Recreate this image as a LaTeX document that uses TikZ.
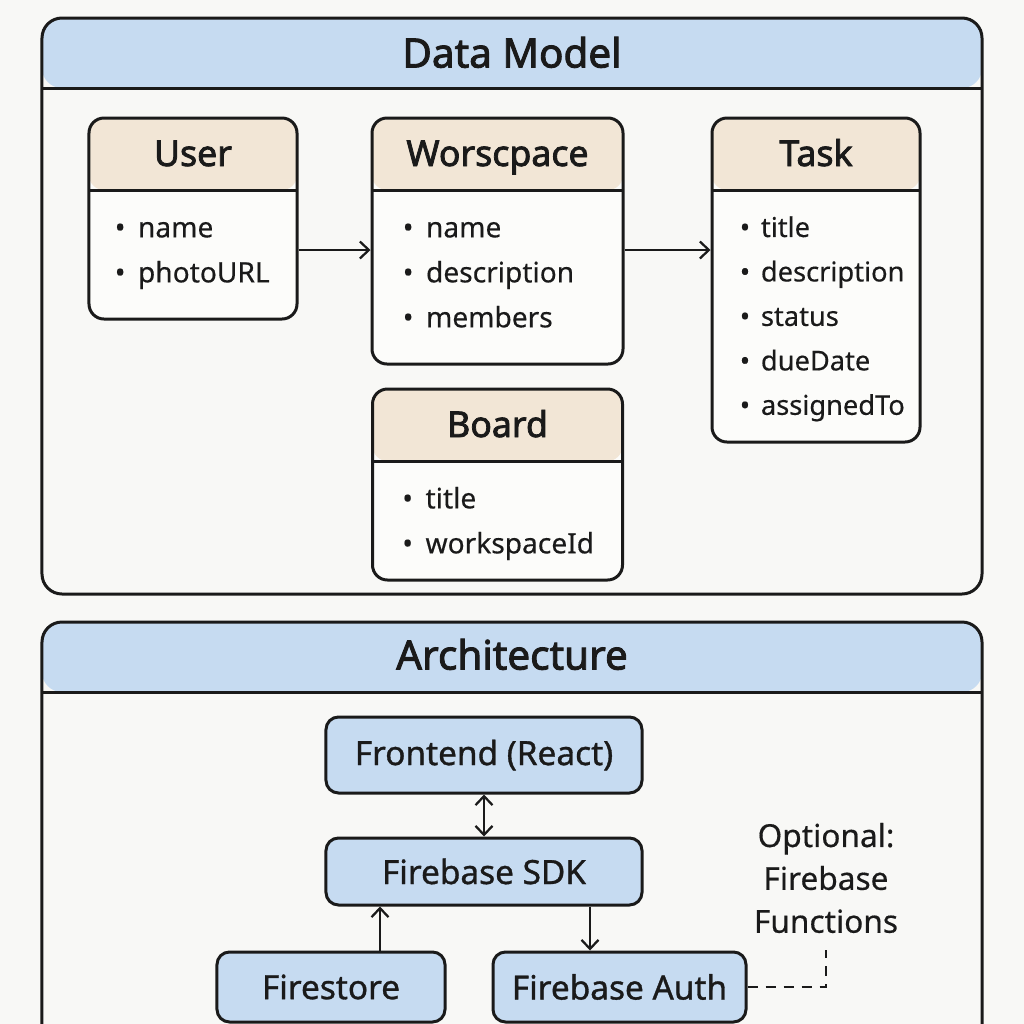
\documentclass[tikz,border=0pt]{standalone}
\usepackage{fontspec}
\setmainfont{Noto Sans}[FakeBold=0.4]
\newfontfamily\titlefont{Noto Sans}[FakeBold=2.2]
\newfontfamily\layerfont{Noto Sans}[FakeBold=1]
\usetikzlibrary{arrows.meta,positioning}

\definecolor{bgcolor}{HTML}{F8F8F6}
\definecolor{headblue}{HTML}{C6DBF1}
\definecolor{headtan}{HTML}{F2E6D6}
\definecolor{boxwhite}{HTML}{FCFCFA}
\definecolor{inkblack}{HTML}{1A1A1A}

\begin{document}
\begin{tikzpicture}[x=0.2mm,y=-0.2mm]

\tikzstyle{panel} = [rectangle, draw=inkblack, line width=0.6mm, rounded corners=4mm, fill=bgcolor, minimum width=188mm,
  path picture={\fill[headblue] (path picture bounding box.north west) rectangle ([yshift=-14mm]path picture bounding box.north east);
  \draw[inkblack, line width=0.6mm] ([yshift=-14mm]path picture bounding box.north west) -- ([yshift=-14mm]path picture bounding box.north east);}]
\tikzstyle{paneltitle} = [anchor=base, font=\titlefont\fontsize{23}{27}\selectfont, text=inkblack]
\tikzstyle{entity} = [rectangle, draw=inkblack, line width=0.6mm, rounded corners=3mm, fill=boxwhite,
  path picture={\fill[headtan] (path picture bounding box.north west) rectangle ([yshift=-14.4mm]path picture bounding box.north east);
  \draw[inkblack, line width=0.6mm] ([yshift=-14.4mm]path picture bounding box.north west) -- ([yshift=-14.4mm]path picture bounding box.north east);}]
\tikzstyle{entitytitle} = [anchor=base, font=\titlefont\fontsize{20.3}{24}\selectfont, text=inkblack]
\tikzstyle{fields} = [anchor=north west, inner sep=0pt, align=left, font=\fontsize{16}{25.6}\selectfont, text=inkblack]
\tikzstyle{layer} = [rectangle, rounded corners=2.5mm, draw=inkblack, line width=0.6mm, fill=headblue, text=inkblack, font=\layerfont\fontsize{19}{23}\selectfont]
\tikzstyle{arrow} = [line width=0.45mm, draw=inkblack, ->, >={Straight Barb[length=1.8mm,width=3.4mm,line width=0.45mm]}]

\fill[bgcolor] (0,0) rectangle (1024,1024);
\clip (0,0) rectangle (1024,1024);

\node (datamodel) [panel, minimum height=115.2mm] at (512,306) {};
\node (dmtitle) [paneltitle] at ([yshift=-10.2mm]datamodel.north) {Data Model};

\node (user) [entity, minimum width=41.6mm, minimum height=40.2mm] at (193,218.5) {};
\node (worscpace) [entity, minimum width=50.2mm, minimum height=49.2mm, right=14.4mm of user.north east, anchor=north west] {};
\node (task) [entity, minimum width=41.6mm, minimum height=64.8mm, right=17.2mm of worscpace.north east, anchor=north west] {};
\node (board) [entity, minimum width=50mm, minimum height=38.2mm, below=4.4mm of worscpace] {};

\node (usertitle) [entitytitle] at ([yshift=-9.9mm]user.north) {User};
\node (worscpacetitle) [entitytitle] at ([yshift=-9.9mm]worscpace.north) {Worscpace};
\node (tasktitle) [entitytitle] at ([yshift=-9.9mm]task.north) {Task};
\node (boardtitle) [entitytitle] at ([yshift=-9.9mm]board.north) {Board};

\node (userfields) [fields] at ([xshift=5.4mm,yshift=-17.8mm]user.north west) {\strut\textbullet\hspace{0.45em}name\\\textbullet\hspace{0.45em}photoURL};
\node (worscpacefields) [fields] at ([xshift=6.4mm,yshift=-17.8mm]worscpace.north west) {\strut\textbullet\hspace{0.45em}name\\\textbullet\hspace{0.45em}description\\\textbullet\hspace{0.45em}members};
\node (taskfields) [fields, font=\fontsize{15.5}{25.3}\selectfont] at ([xshift=5.8mm,yshift=-17.8mm]task.north west) {\strut\textbullet\hspace{0.4em}title\\\textbullet\hspace{0.4em}description\\\textbullet\hspace{0.4em}status\\\textbullet\hspace{0.4em}dueDate\\\textbullet\hspace{0.4em}assignedTo};
\node (boardfields) [fields] at ([xshift=6.2mm,yshift=-17.8mm]board.north west) {\strut\textbullet\hspace{0.45em}title\\\textbullet\hspace{0.45em}workspaceId};

\draw [arrow] ([yshift=-6.3mm]user.east) -- ([yshift=-6.3mm]user.east -| worscpace.west);
\draw [arrow] ([yshift=-1.8mm]worscpace.east) -- ([yshift=-1.8mm]worscpace.east -| task.west);

\node (arch) [panel, minimum height=99.6mm] at (512,871) {};
\node (archtitle) [paneltitle] at ([yshift=-9.8mm]arch.north) {Architecture};

\node (frontend) [layer, minimum width=63.2mm, minimum height=15.2mm] at (484,755) {Frontend (React)};
\node (sdk) [layer, minimum width=63.2mm, minimum height=13.4mm, below=8.4mm of frontend] {Firebase SDK};
\node (firestore) [layer, minimum width=45.6mm, minimum height=14mm] at (331,987) {Firestore};
\node (auth) [layer, minimum width=50.6mm, minimum height=14mm] at (619.5,987) {Firebase Auth};
\node (optional) [align=center, text=inkblack, font=\fontsize{18}{24.4}\selectfont] at (826,878) {Optional:\\Firebase\\Functions};
\coordinate (fnlink) at (826,950);

\draw [arrow, <->] (sdk.north) -- (frontend.south);
\draw [arrow] ([xshift=9.8mm]firestore.north) -- ([xshift=9.8mm]firestore.north |- sdk.south);
\draw [arrow] ([xshift=-5.9mm]auth.north |- sdk.south) -- ([xshift=-5.9mm]auth.north);
\draw [line width=0.4mm, draw=inkblack, dash pattern=on 2mm off 1.6mm] (auth.east) -| (fnlink);

\end{tikzpicture}
\end{document}
